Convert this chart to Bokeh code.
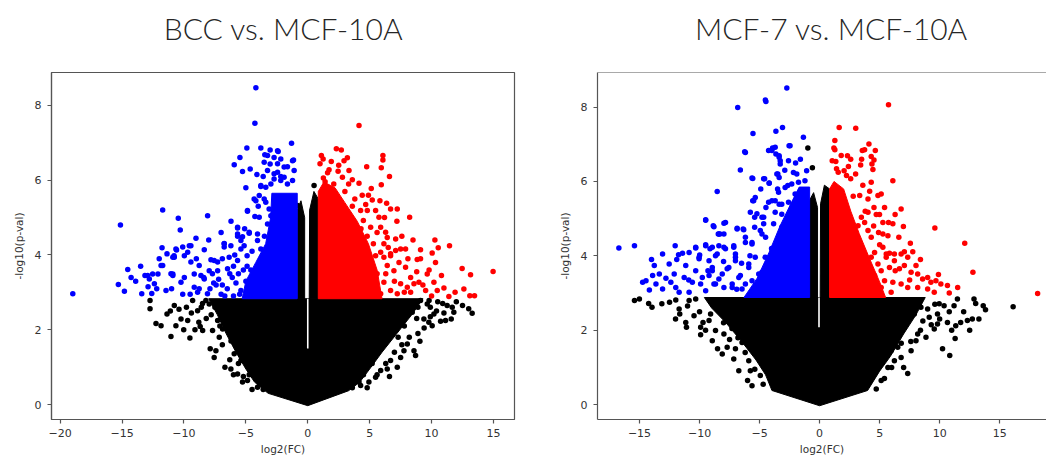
from bokeh.plotting import figure
from bokeh.models import Range1d, FixedTicker, Span, CustomJSTickFormatter
from bokeh.core.properties import value
from bokeh.layouts import row, column
from bokeh.embed import file_html
from bokeh.resources import INLINE

# ---------------- data (log2 fold change, -log10 p-value) ----------------
titles = ["BCC vs. MCF-10A", "MCF-7 vs. MCF-10A"]
x_label = "log2(FC)"
y_label = "-log10(p-val)"
bcc_xticks = [-20, -15, -10, -5, 0, 5, 10, 15]
mcf_xticks = [-15, -10, -5, 0, 5, 10, 15]
y_ticks = [0, 2, 4, 6, 8]

# BCC vs MCF-10A : outlines of the saturated (overplotted) point clouds
bcc_core = [(-8.0, 2.83), (-7.3, 2.4), (-6.6, 1.9), (-5.8, 1.4), (-5.0, 0.95), (-4.3, 0.6),
            (-3.2, 0.3), (0.0, -0.03), (3.3, 0.37), (4.2, 0.6), (5.0, 0.95), (6.0, 1.4),
            (7.2, 1.9), (8.4, 2.4), (9.3, 2.83)]
bcc_col_left = [(-0.85, 2.83), (-0.85, 5.2), (-0.55, 5.45), (-0.25, 5.0), (-0.25, 2.83)]
bcc_col_right = [(0.12, 2.83), (0.15, 5.2), (0.5, 5.7), (0.85, 5.5), (0.85, 2.83)]
bcc_gap = [(0.0, 1.5), (0.0, 2.83)]
bcc_down_dense = [(-5.3, 2.83), (-5.0, 3.3), (-4.2, 3.8), (-3.4, 4.3), (-3.0, 5.0), (-2.9, 5.65),
                  (-0.85, 5.65), (-0.85, 2.83)]
bcc_up_dense = [(0.85, 2.83), (0.85, 5.7), (1.3, 5.95), (2.2, 5.8), (3.0, 5.4), (4.0, 4.9),
                (4.9, 4.3), (5.6, 3.6), (6.0, 2.83)]

bcc_down = [(-4.19, 8.47), (-4.27, 7.52), (-1.31, 6.99), (-4.92, 6.86), (-5.48, 6.61), (-5.94, 6.41),
            (-5.27, 6.23), (-4.65, 6.30), (-4.11, 6.15), (-3.79, 6.86), (-3.04, 6.81), (-3.47, 6.68),
            (-2.39, 6.77), (-2.18, 6.57), (-3.04, 6.43), (-1.15, 6.54), (-1.64, 6.36), (-2.44, 6.21),
            (-1.91, 6.08), (-2.72, 6.03), (-3.79, 5.83), (-4.19, 5.45), (-3.52, 5.50), (-4.87, 5.17),
            (-4.27, 5.03), (-5.67, 4.74), (-4.73, 4.58), (-5.27, 4.49), (-5.67, 4.50), (-6.75, 4.31),
            (-6.21, 4.25), (-5.40, 4.16), (-8.09, 5.05), (-10.46, 4.98), (-10.30, 4.67), (-11.72, 5.20),
            (-15.13, 4.80), (-11.77, 4.19), (-9.03, 4.45), (-9.57, 4.25), (-10.10, 4.21), (-8.36, 4.14),
            (-10.6, 4.13), (-11.37, 4.03), (-10.8, 3.98),
            (-18.98, 2.96), (-15.30, 3.21), (-14.81, 3.03), (-14.54, 3.61), (-14.27, 3.40), (-13.41, 2.96),
            (-13.15, 3.45), (-12.8, 3.36), (-12.53, 3.49), (-12.6, 2.97), (-12.39, 3.23), (-11.72, 3.72),
            (-12.2, 3.1), (-11.45, 3.05), (-11.05, 3.50), (-10.9, 3.45), (-10.78, 3.94), (-10.24, 3.27),
            (-9.97, 3.98), (-10.1, 2.95), (-9.44, 3.81), (-9.17, 3.14), (-8.77, 3.72), (-8.63, 3.45),
            (-8.4, 3.4), (-7.96, 3.58), (-8.1, 2.96), (-7.7, 3.5), (-7.28, 3.81), (-6.9, 3.2),
            (-6.48, 3.63), (-6.1, 3.4), (-5.67, 3.85), (-5.40, 3.05), (-5.2, 3.6), (-4.9, 3.98),
            (-10.65, 4.16), (-9.44, 4.25), (-9.7, 4.07), (-10.9, 3.94), (-8.36, 3.36), (-7.82, 3.87),
            (-8.77, 3.1), (-11.85, 3.72), (-12.93, 3.45), (-12.1, 3.49), (-10.9, 3.49), (-9.97, 3.40),
            (-9.17, 3.49), (-7.56, 3.85), (-7.28, 3.58), (-6.75, 4.30), (-6.75, 4.21), (-6.35, 3.94),
            (-5.67, 4.72), (-5.67, 4.56), (-5.4, 4.39), (-4.87, 5.19), (-5.14, 4.25), (-4.73, 4.61),
            (-4.06, 4.56), (-4.06, 4.39), (-3.79, 4.16), (-3.25, 4.83), (-2.98, 5.05), (-3.92, 5.01),
            (-4.33, 5.50), (-3.92, 5.59), (-3.39, 5.41), (-3.12, 5.23), (-2.98, 5.90), (-3.39, 5.81),
            (-3.79, 5.86), (-3.25, 6.26), (-2.72, 6.17), (-2.18, 5.99), (-1.91, 6.35), (-1.23, 5.99),
            (-1.64, 5.90), (-1.1, 6.26), (-1.23, 6.52), (-2.44, 6.79), (-2.44, 6.44), (-2.72, 6.61),
            (-2.18, 6.1), (-3.25, 6.66), (-3.52, 6.48),
            (-7.0, 2.95), (-6.5, 3.1), (-6.0, 2.9), (-5.8, 3.25), (-5.0, 3.3), (-4.7, 3.05),
            (-6.3, 3.5), (-7.4, 3.2), (-5.5, 2.95), (-4.6, 3.6), (-6.7, 2.9), (-7.9, 3.1),
            (-9.5, 2.95), (-8.9, 3.0), (-11.0, 3.1), (-13.9, 3.3), (-12.0, 3.9),
            (-6.0, 3.7), (-7.2, 3.35), (-5.9, 4.0), (-4.5, 4.1), (-5.1, 4.7), (-6.2, 4.9),
            (-3.5, 4.5), (-4.0, 5.3), (-3.6, 6.1), (-5.0, 5.8), (-7.0, 4.6), (-9.0, 3.9),
            (-12.9, 3.15), (-13.5, 3.7), (-8.0, 4.4), (-6.9, 3.9), (-5.6, 3.5), (-4.9, 3.7),
            (-7.6, 3.25)]

bcc_up = [(4.14, 7.46), (2.31, 6.84), (2.71, 6.81), (1.10, 6.66), (1.24, 6.57), (3.2, 6.6),
          (2.93, 6.52), (6.07, 6.66), (6.07, 6.54), (5.94, 6.33), (4.76, 6.36), (3.33, 6.26),
          (0.99, 6.44), (1.72, 6.28), (2.45, 6.24), (1.26, 6.06), (2.8, 6.08), (3.6, 6.01),
          (4.14, 5.92), (5.13, 5.78), (5.94, 5.88), (1.4, 5.96), (4.68, 5.35), (5.21, 5.47),
          (5.83, 5.45), (6.37, 5.38), (6.69, 5.23), (7.23, 5.23), (4.27, 5.19), (4.81, 5.19),
          (5.48, 5.19), (5.75, 5.01), (8.23, 5.01), (4.49, 4.92), (5.08, 4.74), (5.89, 4.74),
          (6.29, 4.61), (6.42, 4.47), (7.1, 4.43), (6.15, 4.30), (10.27, 4.40), (10.54, 4.19),
          (11.45, 4.25), (10.05, 4.05), (9.11, 4.14), (7.5, 4.16), (7.9, 4.16), (7.1, 4.12),
          (8.09, 3.9), (8.84, 3.88), (6.69, 3.98),
          (14.97, 3.56), (12.47, 3.64), (13.15, 3.47), (12.61, 3.09), (13.09, 2.91), (13.47, 2.91),
          (11.4, 2.89), (11.0, 3.12), (10.32, 3.80), (9.11, 3.9), (9.65, 3.49), (10.19, 3.27),
          (10.46, 3.05), (9.52, 3.05), (8.98, 3.27), (8.31, 3.40), (7.9, 3.67), (7.37, 3.80),
          (8.31, 3.00), (8.58, 3.23), (6.42, 3.72), (6.96, 3.58), (7.5, 3.23), (8.04, 3.14),
          (6.15, 3.27), (6.69, 3.05), (5.89, 2.96), (7.23, 2.96), (5.48, 3.98), (5.89, 4.07),
          (5.08, 3.76), (6.15, 3.94), (6.69, 4.03),
          (1.6, 6.2), (2.1, 5.9), (3.0, 5.7), (3.8, 5.5), (4.4, 5.6), (3.6, 5.3), (1.9, 6.5),
          (5.3, 4.3), (5.6, 3.5), (6.3, 3.5), (5.2, 3.1), (4.8, 4.5), (4.3, 4.7),
          (6.5, 4.2), (7.6, 4.5), (8.5, 4.4), (9.8, 3.6), (7.0, 3.3), (8.8, 3.55), (6.2, 5.0),
          (7.8, 3.0), (9.3, 3.2), (10.8, 3.45), (11.9, 3.0), (5.6, 4.6), (4.9, 5.6), (3.3, 5.9),
          (2.5, 6.4), (6.6, 6.1), (7.2, 4.9), (10.0, 2.9)]

bcc_ns = [(-12.74, 2.78), (-12.74, 2.56), (-12.26, 2.17), (-11.85, 2.11), (-11.05, 1.82), (-11.37, 2.42),
          (-10.78, 2.65), (-11.1, 2.5), (-10.65, 2.11), (-10.24, 2.29), (-10.02, 2.0), (-9.7, 2.25),
          (-9.52, 1.78), (-9.3, 2.78), (-9.11, 2.0), (-8.9, 2.51), (-8.69, 2.09), (-8.49, 1.98),
          (-8.23, 2.78), (-7.96, 2.69), (-7.88, 1.49), (-7.69, 1.98), (-7.56, 1.26), (-7.28, 2.25),
          (-7.15, 1.8), (-6.88, 2.02), (-6.69, 1.0), (-6.48, 2.33), (-6.21, 0.95), (-5.94, 1.36),
          (-5.67, 0.82), (-5.4, 1.18), (-4.87, 0.64), (-5.27, 0.60), (-4.73, 0.8), (-4.06, 0.46),
          (-4.33, 1.04), (-7.42, 1.44), (-6.2, 1.7), (-5.6, 1.9), (-6.8, 2.6), (-5.0, 1.3),
          (-4.6, 0.95), (-3.6, 0.4), (-3.8, 0.55), (-7.8, 2.4), (-8.6, 2.6),
          (-8.5, 2.7), (-9.8, 2.6), (-8.2, 2.3), (-7.5, 2.6), (-6.9, 1.6), (-6.3, 1.2), (-5.6, 1.1),
          (-5.2, 0.75), (-4.5, 0.4), (-8.8, 2.2), (-9.4, 2.45), (-10.4, 2.55), (-7.1, 2.1), (-6.0, 0.8),
          (11.8, 2.47), (11.59, 2.29), (11.13, 2.25), (10.73, 2.23), (13.0, 2.56), (13.28, 2.44),
          (11.26, 2.65), (11.67, 2.60), (10.19, 2.42), (9.78, 2.2), (10.05, 2.11), (9.38, 2.29),
          (9.06, 1.69), (8.58, 1.44), (8.71, 1.31), (8.04, 1.62), (7.77, 1.44), (7.5, 1.26),
          (7.23, 1.0), (6.69, 1.18), (6.42, 0.95), (5.89, 0.91), (5.48, 0.73), (4.94, 0.60),
          (4.27, 0.51), (4.14, 0.60), (9.11, 2.78), (9.65, 2.69), (8.44, 2.47), (8.04, 2.69),
          (7.5, 2.25), (6.96, 1.98), (7.1, 2.42), (3.6, 0.45), (4.5, 0.8), (5.2, 1.1), (6.0, 1.6),
          (7.3, 1.8), (7.8, 2.1), (8.8, 2.3), (9.9, 2.6), (10.5, 2.75), (12.0, 2.75),
          (9.9, 2.35), (10.4, 2.5), (9.4, 2.05), (8.2, 1.8), (7.0, 1.4), (6.3, 1.1), (5.6, 0.8),
          (4.8, 0.45), (8.9, 2.6), (10.9, 2.7), (7.6, 1.6), (8.9, 1.9), (6.6, 0.75), (9.8, 2.78),
          (12.5, 2.65), (11.0, 2.45),
          (0.51, 5.86), (-0.83, 5.32)]

# MCF-7 vs MCF-10A
mcf_core = [(-9.6, 2.88), (-9.0, 2.6), (-7.8, 2.2), (-6.5, 1.7), (-5.3, 1.2), (-4.5, 0.8),
            (-3.97, 0.38), (0.0, -0.03), (4.0, 0.38), (5.0, 0.9), (5.9, 1.3), (7.0, 1.9),
            (8.0, 2.4), (8.8, 2.88)]
mcf_col_left = [(-0.83, 2.88), (-0.83, 5.5), (-0.5, 5.7), (-0.17, 5.3), (-0.17, 2.88)]
mcf_col_right = [(0.05, 2.88), (0.08, 5.4), (0.4, 5.9), (0.83, 5.8), (0.83, 2.88)]
mcf_gap = [(-0.05, 2.08), (-0.05, 2.88)]
mcf_down_dense = [(-6.3, 2.88), (-5.2, 3.4), (-4.2, 4.1), (-3.3, 4.8), (-2.4, 5.4), (-1.7, 5.85),
                  (-0.83, 5.85), (-0.83, 2.88)]
mcf_up_dense = [(0.83, 2.88), (0.83, 5.8), (1.2, 6.0), (2.0, 5.8), (2.6, 5.2), (3.3, 4.6),
                (4.2, 3.9), (5.0, 3.3), (5.5, 2.88)]

mcf_down = [(-2.73, 8.51), (-4.52, 8.19), (-4.47, 8.15), (-6.82, 7.99), (-3.09, 7.45), (-3.64, 7.35),
            (-5.55, 7.29), (-6.24, 6.8), (-2.54, 6.96), (-4.25, 6.83), (-3.92, 6.9), (-3.37, 6.65),
            (-3.64, 6.74), (-3.28, 6.56), (-6.6, 6.31), (-5.63, 6.09), (-4.66, 6.07), (-4.2, 5.95),
            (-3.56, 6.2), (-3.37, 6.11), (-2.65, 5.89), (-8.53, 5.73), (-9.49, 4.97), (-8.86, 4.81),
            (-7.97, 4.88), (-8.44, 4.59), (-8.3, 4.59), (-6.87, 4.74), (-6.37, 4.72), (-16.72, 4.21),
            (-15.42, 4.27), (-13.08, 4.05), (-12.03, 4.27), (-11.75, 4.03), (-11.42, 4.07), (-10.87, 4.09),
            (-10.32, 4.21), (-9.49, 4.3), (-9.99, 4.02), (-9.13, 4.19), (-7.97, 4.23), (-8.53, 4.05),
            (-7.15, 4.23), (-7.01, 4.05), (-6.18, 4.36), (-5.63, 4.36), (-5.41, 5.04), (-5.41, 4.77),
            (-5.57, 5.48), (-5.36, 5.57), (-4.8, 5.04), (-4.47, 5.3), (-3.97, 5.48), (-3.7, 5.17),
            (-3.37, 5.39), (-3.15, 5.12), (-4.8, 4.59),
            (-14.74, 3.29), (-14.46, 3.33), (-14.18, 3.08), (-13.91, 3.47), (-13.77, 3.74), (-13.63, 3.24),
            (-13.35, 3.51), (-13.08, 3.11), (-12.53, 3.78), (-12.39, 3.29), (-12.11, 3.51), (-11.98, 3.15),
            (-11.7, 3.02), (-11.28, 3.42), (-11.15, 3.74), (-10.87, 3.02), (-10.6, 3.29), (-10.32, 3.6),
            (-10.04, 3.92), (-9.91, 3.24), (-9.49, 3.06), (-9.21, 3.47), (-8.94, 3.69), (-8.8, 3.24),
            (-8.67, 4.0), (-8.39, 3.38), (-7.97, 3.15), (-7.7, 3.65), (-7.28, 3.24), (-7.01, 3.87),
            (-6.6, 3.47), (-6.46, 3.11), (-5.9, 3.69), (-5.63, 3.33), (-5.36, 3.96), (-5.07, 3.15),
            (-4.8, 3.56), (-4.25, 3.78), (-3.7, 3.24), (-3.15, 3.6), (-2.59, 3.96),
            (-6.18, 6.78), (-5.57, 6.08), (-4.58, 6.07), (-4.2, 5.96), (-3.97, 6.83), (-3.7, 6.92),
            (-3.37, 6.69), (-3.28, 6.47), (-2.59, 6.56), (-2.46, 6.96), (-2.18, 6.24), (-3.48, 6.2),
            (-3.42, 5.71), (-2.87, 5.84), (-2.32, 5.93), (-1.76, 5.98), (-1.35, 7.19), (-1.08, 6.29),
            (-1.22, 6.02), (-5.49, 5.48), (-5.22, 5.13), (-4.66, 5.04), (-4.25, 5.44), (-3.7, 5.48),
            (-3.15, 5.39), (-2.59, 5.44), (-2.32, 5.3), (-2.04, 5.66), (-7.84, 4.9), (-9.49, 4.96),
            (-8.8, 4.78), (-8.39, 4.59), (-7.97, 4.59), (-6.87, 4.72), (-6.32, 4.7), (-6.18, 4.5),
            (-5.77, 5.17), (-4.94, 4.68), (-4.66, 4.86), (-3.83, 4.86), (-3.15, 4.77), (-10.32, 4.23),
            (-9.49, 4.27), (-8.94, 4.23), (-8.39, 4.27), (-7.84, 4.19), (-10.04, 3.96), (-9.21, 3.87),
            (-7.15, 4.27), (-5.63, 4.32), (-8.94, 3.6), (-8.11, 3.51), (-7.56, 3.69), (-6.73, 3.42),
            (-5.9, 3.78), (-5.07, 3.51), (-4.53, 3.96), (-3.97, 3.69), (-3.7, 3.33), (-6.18, 3.24),
            (-7.28, 3.15), (-8.67, 3.24), (-9.77, 3.42), (-5.07, 3.15), (-7.01, 3.96), (-4.25, 3.15),
            (-2.0, 6.5), (-1.6, 6.6), (-2.9, 6.3), (-1.9, 6.2), (-4.9, 5.8), (-4.0, 4.2), (-3.0, 4.3),
            (-2.6, 4.6), (-5.8, 4.0), (-6.5, 3.8), (-8.0, 3.85), (-9.3, 3.6), (-11.9, 3.9),
            (-12.8, 3.4), (-14.0, 3.9), (-10.9, 3.35), (-6.9, 3.1), (-4.5, 4.5), (-3.5, 5.8)]

mcf_up = [(5.74, 8.06), (1.63, 7.45), (3.01, 7.43), (1.27, 7.1), (4.11, 7.01), (1.19, 6.9),
          (1.27, 6.85), (3.56, 6.83), (3.75, 6.85), (4.64, 6.83), (2.32, 6.69), (2.59, 6.6),
          (4.3, 6.67), (4.53, 6.58), (1.05, 6.56), (1.35, 6.54), (3.42, 6.44), (4.36, 6.47),
          (4.44, 6.32), (6.1, 6.02), (1.41, 6.34), (1.55, 6.25), (2.04, 6.29), (2.59, 6.07),
          (2.24, 6.16), (4.3, 5.98), (4.17, 5.74), (3.34, 5.62), (4.03, 5.53), (4.86, 5.62),
          (5.13, 5.66), (5.41, 5.3), (6.79, 5.26), (4.53, 5.3), (6.29, 5.11), (4.99, 5.11),
          (4.72, 5.11), (9.6, 4.75), (12.09, 4.34), (6.98, 4.79), (5.27, 4.9), (5.74, 4.9),
          (6.1, 4.86), (4.91, 4.63), (5.69, 4.54), (5.27, 4.59), (4.03, 4.68), (4.3, 4.5),
          (3.75, 4.9), (3.2, 4.81), (3.48, 5.04), (4.03, 5.17), (7.56, 4.34), (7.76, 4.11),
          (7.06, 4.11), (5.27, 4.23), (5.82, 4.07), (6.23, 4.05), (4.58, 4.09), (5.55, 3.96),
          (18.16, 2.99), (12.77, 3.56), (10.65, 3.2), (10.1, 3.24), (9.69, 3.33), (9.27, 3.29),
          (9.0, 3.42), (8.58, 3.38), (8.17, 3.51), (7.62, 3.56), (8.03, 3.74), (7.06, 3.74),
          (6.65, 3.65), (7.34, 3.96), (6.79, 4.05), (6.23, 3.87), (5.82, 3.69), (5.55, 4.05),
          (4.86, 3.78), (5.13, 3.6), (4.58, 3.47), (4.3, 3.96), (5.41, 3.33), (6.1, 3.29),
          (6.79, 3.24), (7.34, 3.15), (8.17, 3.15), (9.0, 3.11), (9.55, 3.02), (5.96, 3.02),
          (4.86, 2.98), (5.13, 3.15),
          (2.4, 6.4), (3.0, 6.2), (3.6, 5.9), (2.8, 5.6), (3.8, 5.2), (4.5, 4.8), (5.0, 4.3),
          (6.6, 4.5), (8.4, 3.9), (7.5, 3.35), (9.9, 3.5), (10.8, 3.0), (11.5, 3.15), (6.3, 3.6),
          (3.5, 6.6), (1.8, 6.7)]

mcf_ns = [(16.12, 2.63), (13.82, 2.55), (13.63, 2.66), (12.86, 2.84), (13.0, 2.72), (13.27, 2.3),
          (12.72, 2.3), (12.31, 2.26), (11.75, 2.21), (11.34, 2.12), (11.29, 1.78), (10.84, 1.32),
          (10.24, 1.5), (10.65, 2.21), (9.82, 2.17), (9.55, 2.03), (9.82, 2.44), (9.13, 2.35),
          (8.86, 1.81), (8.17, 1.9), (8.03, 1.72), (7.62, 1.45), (7.34, 0.84), (7.89, 2.44),
          (8.44, 2.62), (9.0, 2.57), (11.2, 2.66), (11.48, 2.84), (10.37, 2.66), (9.96, 2.71),
          (6.79, 1.27), (6.23, 1.18), (5.69, 1.0), (5.13, 0.65), (4.72, 0.42), (6.51, 1.54),
          (5.96, 1.45),
          (9.6, 2.7), (10.8, 2.5), (9.3, 2.15), (8.4, 2.0), (7.6, 1.7), (6.8, 1.65), (6.0, 1.0),
          (5.4, 0.7), (10.0, 2.3), (12.0, 2.5), (7.0, 1.0), (8.6, 2.25), (12.5, 2.0), (11.0, 2.0),
          (-15.42, 2.8), (-15.01, 2.84), (-14.24, 2.72), (-13.96, 2.62), (-13.14, 2.71), (-11.98, 2.81),
          (-11.7, 2.57), (-11.65, 2.44), (-11.15, 2.21), (-11.09, 2.08), (-10.87, 2.8), (-10.32, 2.84),
          (-10.46, 2.39), (-9.91, 2.08), (-9.71, 2.21), (-9.21, 2.26), (-9.08, 2.44), (-9.91, 1.88),
          (-8.67, 1.99), (-8.94, 1.72), (-7.97, 1.9), (-7.7, 1.54), (-8.11, 1.36), (-7.01, 1.5),
          (-7.15, 1.23), (-6.46, 1.67), (-5.77, 0.91), (-6.73, 0.91), (-5.63, 0.51), (-4.94, 0.78),
          (-5.9, 1.18), (-4.8, 1.18), (-4.11, 1.0),
          (-11.0, 2.65), (-10.0, 2.5), (-9.0, 2.75), (-8.3, 2.55), (-8.0, 2.2), (-7.3, 2.05),
          (-6.8, 1.8), (-6.2, 1.4), (-5.4, 0.95), (-4.7, 0.55), (-12.5, 2.75), (-12.0, 2.3),
          (-9.5, 2.0), (-7.5, 1.75), (-6.0, 0.65), (-8.5, 1.5),
          (-0.98, 6.9), (-0.6, 6.37)]

BLACK, BLUE, RED = "black", "#0000ff", "#ff0000"
FRAME = "#555555"
TITLE_H = 68


def xs(pts):
    return [p[0] for p in pts]


def ys(pts):
    return [p[1] for p in pts]


minus_fmt = CustomJSTickFormatter(code="""
    return tick < 0 ? "\\u2212" + Math.abs(tick) : String(tick);
""")


def title_strip(text, width, center_px):
    t = figure(width=width, height=TITLE_H, x_range=Range1d(0, width), y_range=Range1d(0, TITLE_H),
               output_backend="svg", toolbar_location=None,
               x_axis_location=None, y_axis_location=None,
               min_border_left=0, min_border_right=0, min_border_top=0, min_border_bottom=0,
               background_fill_color="white", border_fill_color="white")
    t.outline_line_color = None
    t.xgrid.visible = False
    t.ygrid.visible = False
    t.text(x=[center_px], y=[TITLE_H - 27], text=[text], text_align="center",
           text_baseline="middle", text_font=value("Lato Light"),
           text_font_size=value("30px"), text_color="#262626")
    return t


def panel(xr, yr, xticks, core, col_l, col_r, gap, down_dense, up_dense,
          ns, down, up, width, bl, br, outline):
    p = figure(width=width, height=459 - TITLE_H, x_range=Range1d(*xr), y_range=Range1d(*yr),
               output_backend="svg", toolbar_location=None,
               min_border_left=bl, min_border_right=br, min_border_top=72 - TITLE_H,
               min_border_bottom=40,
               background_fill_color="white", border_fill_color="white")
    p.xgrid.visible = False
    p.ygrid.visible = False
    if outline:
        p.outline_line_color = FRAME
        p.outline_line_width = 1.2
    else:
        p.outline_line_color = None
        p.add_layout(Span(location=yr[1], dimension="width", line_color=FRAME, line_width=1.2))

    xa = p.below[0]
    ya = p.left[0]
    for ax in (xa, ya):
        ax.axis_line_color = FRAME
        ax.axis_line_width = 1.2
        ax.major_tick_line_color = FRAME
        ax.major_tick_line_width = 1.2
        ax.major_tick_out = 4
        ax.major_tick_in = 0
        ax.minor_tick_line_color = None
        ax.major_label_text_font = "DejaVu Sans"
        ax.major_label_text_font_size = "11px"
        ax.major_label_text_color = "#333333"
        ax.axis_label_text_font = "DejaVu Sans"
        ax.axis_label_text_font_size = "10.5px"
        ax.axis_label_text_font_style = "normal"
        ax.axis_label_text_color = "#333333"
        ax.formatter = minus_fmt
    xa.ticker = FixedTicker(ticks=xticks)
    ya.ticker = FixedTicker(ticks=y_ticks)
    xa.axis_label = x_label
    ya.axis_label = y_label
    xa.major_label_standoff = 5
    xa.axis_label_standoff = 3
    ya.major_label_standoff = 6
    ya.axis_label_standoff = 7

    # non-significant (black)
    p.patch(xs(core), ys(core), fill_color=BLACK, line_color=BLACK, line_width=1)
    p.patch(xs(col_l), ys(col_l), fill_color=BLACK, line_color=BLACK, line_width=1)
    p.patch(xs(col_r), ys(col_r), fill_color=BLACK, line_color=BLACK, line_width=1)
    p.scatter(xs(ns), ys(ns), size=5.5, fill_color=BLACK, line_color=None)
    p.line(xs(gap), ys(gap), line_color="white", line_width=1.6)
    # down-regulated (blue)
    p.patch(xs(down_dense), ys(down_dense), fill_color=BLUE, line_color=BLUE, line_width=1)
    p.scatter(xs(down), ys(down), size=5.5, fill_color=BLUE, line_color=None)
    # up-regulated (red)
    p.patch(xs(up_dense), ys(up_dense), fill_color=RED, line_color=RED, line_width=1)
    p.scatter(xs(up), ys(up), size=5.5, fill_color=RED, line_color=None)
    return p


W1, W2 = 555, 491
t1 = title_strip(titles[0], W1, 283)
t2 = title_strip(titles[1], W2, 276)
p1 = panel((-20.7, 16.7), (-0.40, 8.88), bcc_xticks, bcc_core, bcc_col_left,
           bcc_col_right, bcc_gap, bcc_down_dense, bcc_up_dense, bcc_ns, bcc_down, bcc_up,
           W1, 51, 41, True)
p2 = panel((-18.5, 18.9), (-0.40, 8.93), mcf_xticks, mcf_core, mcf_col_left,
           mcf_col_right, mcf_gap, mcf_down_dense, mcf_up_dense, mcf_ns, mcf_down, mcf_up,
           W2, 39, 0, False)

layout = column(row(t1, t2), row(p1, p2))
open("out.html", "w").write(file_html(layout, INLINE))
